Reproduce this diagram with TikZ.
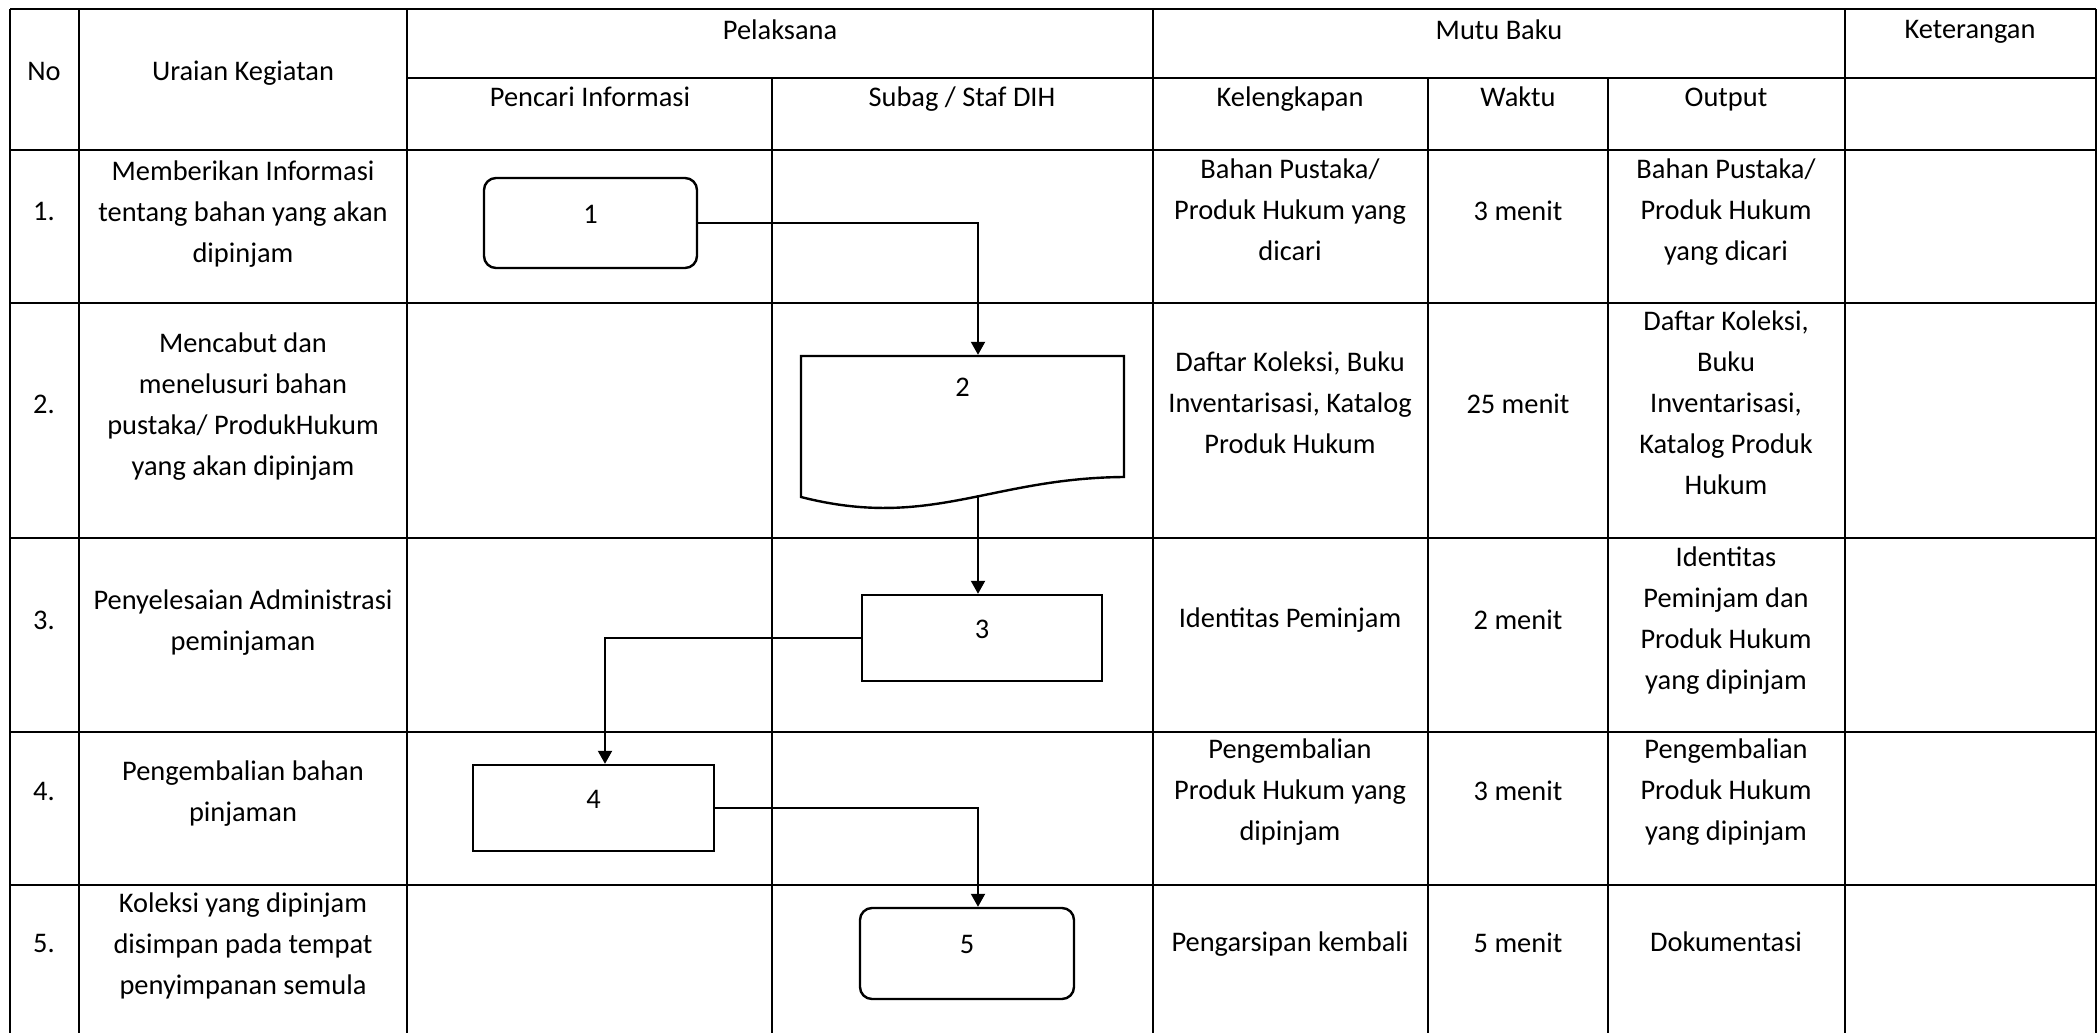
\documentclass[tikz,border=0pt]{standalone}
\usepackage{fontspec}
\setmainfont{Carlito}
\usetikzlibrary{arrows.meta}

\tikzset{
  txt/.style={align=center,inner sep=0pt,font=\fontsize{14.2}{20.5}\selectfont,
    execute at begin node=\strut,execute at end node=\strut},
  flowbox/.style={draw,line width=1.2pt,inner sep=0pt,text depth=9pt,font=\fontsize{14.2}{17}\selectfont},
  termbox/.style={flowbox,rounded corners=6pt}
}

\begin{document}
\begin{tikzpicture}[x=0.5pt,y=-0.5pt,line width=1pt,>={Stealth[length=6.5pt,width=7pt,inset=0pt]}]
  \fill[white] (0,0) rectangle (2098,1033);
  \useasboundingbox (0,0) rectangle (2098,1033);

  \foreach \x/\top in {10/9,79/9,407/9,772/78,1153/9,1428/78,1608/78,1845/9,2096/9}
    \draw (\x,\top) -- (\x,1033);
  \draw (10,9) -- (2096,9);
  \draw (407,78) -- (2096,78);
  \foreach \y in {150,303,538,732,885}
    \draw (10,\y) -- (2096,\y);

  \foreach \n/\x/\y/\lab in {
    no/44/72/No,
    uraian/243/72/Uraian Kegiatan,
    pelaksana/780/31/Pelaksana,
    mutu/1499/31/Mutu Baku,
    ket/1970/30/Keterangan,
    pencari/590/98/Pencari Informasi,
    subag/962/98/{Subag / Staf DIH},
    kelengkapan/1290/98/Kelengkapan,
    waktu/1518/98/Waktu,
    output/1726/98/Output}
  {
    \node[txt] (h-\n) at (\x,\y) {\lab};
  }

  \foreach \r/\y/\yu/\yk/\yo/\ura/\kel/\wkt/\out in {
    1/212/218/216/216/{Memberikan Informasi\\tentang bahan yang akan\\dipinjam}/{Bahan Pustaka/\\Produk Hukum yang\\dicari}/3 menit/{Bahan Pustaka/\\Produk Hukum\\yang dicari},
    2/405/410/409/409/{Mencabut dan\\menelusuri bahan\\pustaka/ ProdukHukum\\yang akan dipinjam}/{Daftar Koleksi, Buku\\Inventarisasi, Katalog\\Produk Hukum}/25 menit/{Daftar Koleksi,\\Buku\\Inventarisasi,\\Katalog Produk\\Hukum},
    3/621/626/619/624/{Penyelesaian Administrasi\\peminjaman}/{Identitas Peminjam}/2 menit/{Identitas\\Peminjam dan\\Produk Hukum\\yang dipinjam},
    4/792/797/796/796/{Pengembalian bahan\\pinjaman}/{Pengembalian\\Produk Hukum yang\\dipinjam}/3 menit/{Pengembalian\\Produk Hukum\\yang dipinjam},
    5/944/950/943/943/{Koleksi yang dipinjam\\disimpan pada tempat\\penyimpanan semula}/{Pengarsipan kembali}/5 menit/{Dokumentasi}}
  {
    \node[txt] (no\r) at (44,\y) {\r.};
    \node[txt] (ura\r) at (243,\yu) {\ura};
    \node[txt] (kel\r) at (1290,\yk) {\kel};
    \node[txt] (wkt\r) at (1518,\y) {\wkt};
    \node[txt] (out\r) at (1726,\yo) {\out};
  }

  \coordinate (staf) at (978,0);
  \coordinate (pencari) at (605,0);

  \node[termbox,minimum width=106.5pt,minimum height=45pt] (b1) at (590.5,223) {1};
  \node[flowbox,draw=none,minimum width=161.5pt,minimum height=70.5pt,text depth=39.5pt] (b2) at (962.5,426.5) {2};
  \draw[line width=1.2pt] (1124,477) .. controls (990,478) and (930,530) .. (801,497)
    -- (801,356) -- (1124,356) -- cycle;
  \coordinate (b2out) at (978,495);
  \node[flowbox,minimum width=120pt,minimum height=43pt] (b3) at (982,638) {3};
  \node[flowbox,minimum width=120.5pt,minimum height=43pt] (b4) at (593.5,808) {4};
  \node[termbox,minimum width=107pt,minimum height=45.5pt] (b5) at (967,953.5) {5};

  \draw[->] (b1.east) -| (b2.north -| staf);
  \draw[->] (b2out) -- (b3.north -| staf);
  \draw[->] (b3.west) -| (b4.north -| pencari);
  \draw[->] (b4.east) -| (b5.north -| staf);
\end{tikzpicture}
\end{document}
